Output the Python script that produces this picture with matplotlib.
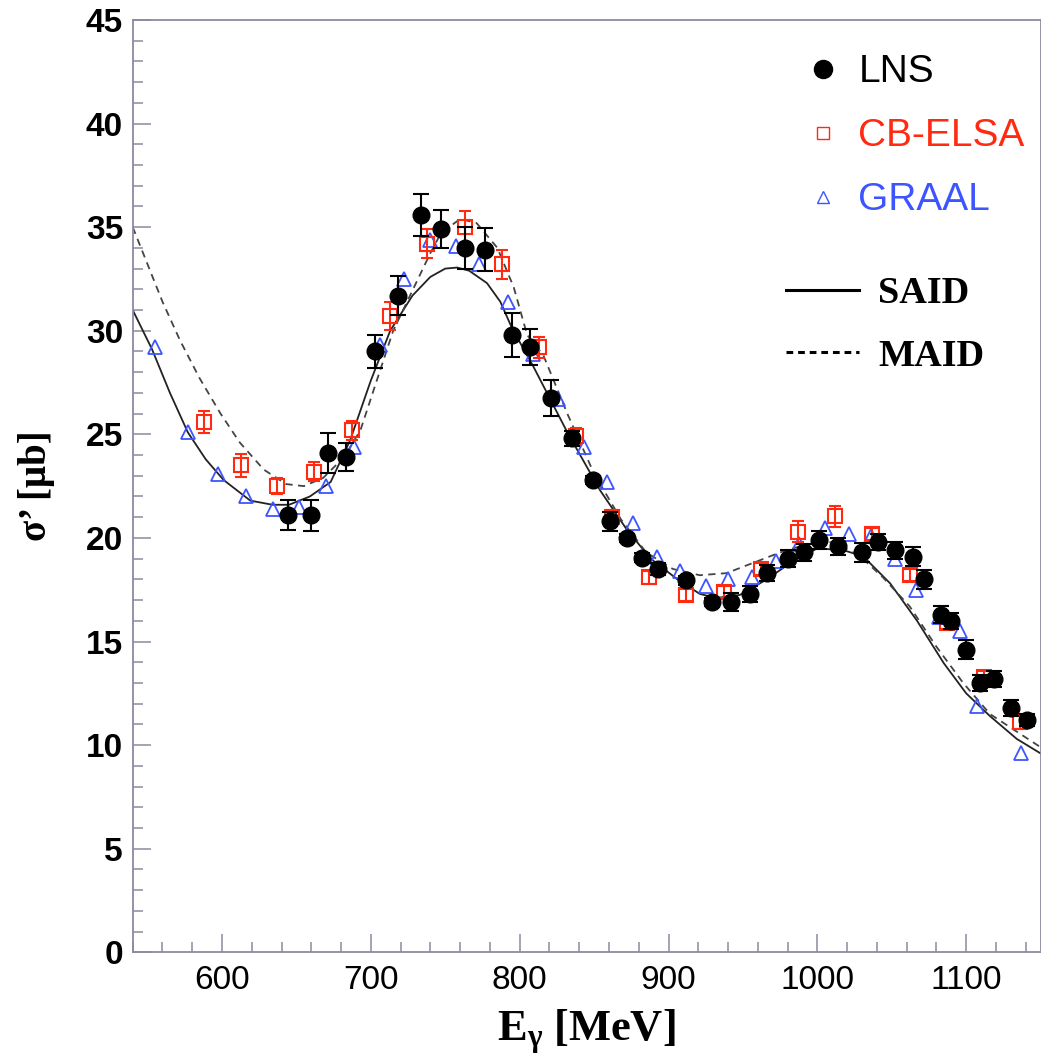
import matplotlib

matplotlib.use("Agg")
import matplotlib.pyplot as plt  # noqa: E402
from matplotlib.lines import Line2D  # noqa: E402
from matplotlib.ticker import MultipleLocator  # noqa: E402

plt.rcParams["mathtext.fontset"] = "custom"
plt.rcParams["mathtext.rm"] = "Liberation Serif"
plt.rcParams["mathtext.bf"] = "Liberation Serif:bold"
plt.rcParams["mathtext.it"] = "Liberation Serif:italic"

# LNS data (filled circles)
lns_e = [644, 660, 671, 683, 703, 718, 734, 747, 763, 777, 795, 807, 821, 835, 849,
         861, 872, 882, 893, 912, 929, 942, 955, 966, 980, 991, 1001, 1014, 1030, 1041,
         1052, 1064, 1072, 1083, 1090, 1100, 1109, 1119, 1130, 1141]
lns_sig = [21.1, 21.1, 24.1, 23.9, 29.0, 31.7, 35.6, 34.9, 34.0, 33.9, 29.8, 29.2, 26.75, 24.8, 22.8,
           20.8, 20.0, 19.05, 18.5, 17.95, 16.9, 16.9, 17.3, 18.3, 19.0, 19.3, 19.9, 19.6, 19.3, 19.8,
           19.4, 19.1, 18.0, 16.3, 16.0, 14.6, 13.0, 13.2, 11.8, 11.2]
lns_err = [0.72, 0.75, 0.98, 0.68, 0.78, 0.93, 1.02, 0.93, 1.0, 1.04, 1.05, 0.87, 0.85, 0.35, 0.2,
           0.45, 0.2, 0.2, 0.3, 0.2, 0.2, 0.43, 0.4, 0.4, 0.4, 0.4, 0.45, 0.4, 0.45, 0.4,
           0.4, 0.45, 0.45, 0.4, 0.4, 0.45, 0.4, 0.4, 0.4, 0.3]

# CB-ELSA data (open squares)
cb_e = [588, 613, 637, 662, 687, 713, 738, 763, 788, 813, 838, 862, 887, 912, 937,
        962, 987, 1012, 1037, 1062, 1087, 1112, 1136]
cb_sig = [25.6, 23.5, 22.5, 23.2, 25.2, 30.7, 34.2, 35.0, 33.2, 29.2, 24.9, 21.0, 18.1, 17.25, 17.4,
          18.5, 20.3, 21.05, 20.2, 18.2, 15.9, 13.3, 11.1]
cb_err = [0.55, 0.55, 0.4, 0.45, 0.45, 0.67, 0.7, 0.78, 0.68, 0.5, 0.4, 0.35, 0.3, 0.3, 0.3,
          0.3, 0.5, 0.5, 0.3, 0.3, 0.3, 0.3, 0.3]

# GRAAL data (open triangles)
gr_e = [555, 577, 597, 616, 634, 652, 670, 689, 706, 722, 740, 757, 773, 792, 809,
        826, 843, 859, 876, 892, 908, 925, 940, 956, 972, 988, 1005, 1021, 1036, 1052,
        1066, 1082, 1096, 1107, 1137]
gr_sig = [29.2, 25.1, 23.1, 22.0, 21.4, 21.5, 22.5, 24.4, 29.3, 32.5, 34.4, 34.1, 33.2, 31.4, 28.9,
          26.7, 24.4, 22.7, 20.7, 19.1, 18.4, 17.7, 18.0, 18.1, 18.9, 19.7, 20.5, 20.2, 20.1, 19.0,
          17.5, 16.2, 15.5, 11.9, 9.6]

# SAID curve (solid)
said_e = [540, 553, 565, 577, 589, 601, 619, 634, 645, 659, 673, 686, 700, 713, 728,
          740, 750, 758, 766, 778, 787, 795, 809, 832, 854, 872, 888, 906, 921, 932, 948,
          966, 982, 1000, 1018, 1031, 1049, 1067, 1085, 1100, 1116, 1134, 1150]
said_sig = [31.0, 29.1, 27.0, 25.1, 23.8, 22.8, 21.8, 21.6, 21.6, 22.0, 22.7, 24.7, 27.6, 30.0, 31.7,
            32.6, 33.0, 33.05, 32.9, 32.3, 31.4, 30.1, 28.3, 25.1, 22.3, 20.4, 19.0, 18.0, 17.3, 17.1, 17.25,
            18.0, 18.8, 19.5, 19.4, 19.1, 17.8, 16.0, 13.95, 12.5, 11.4, 10.3, 9.6]

# MAID curve (dashed)
maid_e = [540, 550, 560, 572, 585, 599, 612, 628, 643, 655, 668, 682, 693, 704, 715,
          731, 740, 747, 760, 771, 785, 796, 805, 816, 832, 850, 868, 885, 903, 921,
          939, 957, 975, 993, 1011, 1029, 1044, 1062, 1080, 1098, 1116, 1134, 1150]
maid_sig = [35.0, 33.2, 31.4, 29.5, 27.7, 26.0, 24.6, 23.3, 22.6, 22.5, 22.9, 23.9, 25.2, 27.6, 30.0,
            32.4, 33.75, 34.7, 35.4, 35.2, 34.0, 32.1, 29.8, 28.8, 26.0, 23.1, 20.9, 19.3, 18.5, 18.2,
            18.3, 18.8, 19.3, 19.7, 19.8, 19.1, 18.1, 16.7, 14.75, 13.0, 11.5, 10.65, 9.9]

RED = "#ff2a10"
BLUE = "#3d55ff"
AXIS_GRAY = "#8c8a9e"

fig = plt.figure(figsize=(10.41, 10.62), dpi=100)
ax = fig.add_axes([0.1275, 0.1033, 0.8721, 0.8779])

ax.plot(said_e, said_sig, color="#222222", linewidth=1.3, zorder=2)
ax.plot(maid_e, maid_sig, color="#444444", linewidth=1.3, linestyle=(0, (4, 3)), zorder=2)

ax.plot(gr_e, gr_sig, linestyle="none", marker="^", markersize=10, markerfacecolor="none",
        markeredgecolor=BLUE, markeredgewidth=1.3, zorder=3)
ax.errorbar(cb_e, cb_sig, yerr=cb_err, fmt="s", markersize=9.5, markerfacecolor="none",
            markeredgecolor=RED, markeredgewidth=1.5, ecolor=RED, elinewidth=1.5,
            capsize=4.5, capthick=1.5, zorder=4)
ax.errorbar(lns_e, lns_sig, yerr=lns_err, fmt="o", markersize=12, color="black",
            elinewidth=1.5, capsize=6, capthick=1.5, zorder=5)

ax.set_xlim(540, 1150)
ax.set_ylim(0, 45)
ax.xaxis.set_major_locator(MultipleLocator(100))
ax.xaxis.set_minor_locator(MultipleLocator(20))
ax.yaxis.set_major_locator(MultipleLocator(5))
ax.yaxis.set_minor_locator(MultipleLocator(1))

for side in ("left", "bottom", "top", "right"):
    ax.spines[side].set_color(AXIS_GRAY)
    ax.spines[side].set_linewidth(1.3)
ax.tick_params(which="both", direction="in", colors=AXIS_GRAY, top=False, right=False, width=1.1)
ax.tick_params(which="major", length=13)
ax.tick_params(which="minor", length=7)
ax.tick_params(axis="y", which="major", pad=7, labelcolor="black", labelsize=24)
ax.tick_params(axis="x", which="major", pad=9, labelcolor="black", labelsize=24)
for lab in ax.get_yticklabels():
    lab.set_fontfamily("Liberation Sans")
    lab.set_fontweight("bold")
for lab in ax.get_xticklabels():
    lab.set_fontfamily("Liberation Sans")

ax.set_xlabel(r"$\mathbf{E_{\gamma}\ [MeV]}$", fontsize=32, labelpad=8)
ax.set_ylabel("σ’ [μb]", fontsize=28, fontfamily="Liberation Serif", fontweight="bold", labelpad=22)

# legend: data sets
h_lns = Line2D([], [], linestyle="none", marker="o", markersize=13, color="black")
h_cb = Line2D([], [], linestyle="none", marker="s", markersize=9, markerfacecolor="none",
              markeredgecolor=RED, markeredgewidth=1.0)
h_gr = Line2D([], [], linestyle="none", marker="^", markersize=9, markerfacecolor="none",
              markeredgecolor=BLUE, markeredgewidth=1.0)
leg1 = ax.legend([h_lns, h_cb, h_gr], ["LNS", "CB-ELSA", "GRAAL"], loc="upper left",
                 bbox_to_anchor=(0.735, 0.963), frameon=False, borderpad=0, borderaxespad=0,
                 handlelength=1.2, handletextpad=0.3, labelspacing=0.72,
                 prop={"family": "Liberation Sans", "size": 28})
for txt, col in zip(leg1.get_texts(), ["black", RED, BLUE]):
    txt.set_color(col)
ax.add_artist(leg1)

# legend: model curves
h_said = Line2D([], [], color="black", linewidth=2.2)
h_maid = Line2D([], [], color="black", linewidth=2.2, linestyle=(0, (2.2, 1.6)))
leg2 = ax.legend([h_said, h_maid], ["SAID", "MAID"], loc="upper left",
                 bbox_to_anchor=(0.72, 0.725), frameon=False, borderpad=0, borderaxespad=0,
                 handlelength=1.9, handletextpad=0.5, labelspacing=0.72,
                 prop={"family": "Liberation Serif", "weight": "bold", "size": 27.5})

fig.savefig("out.png", dpi=100)
